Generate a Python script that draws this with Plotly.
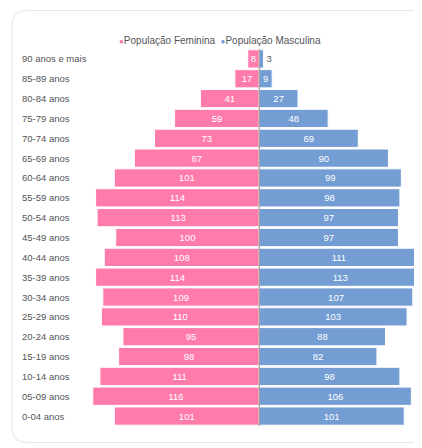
import plotly.graph_objects as go

categories = ["90 anos e mais", "85-89 anos", "80-84 anos", "75-79 anos", "70-74 anos",
              "65-69 anos", "60-64 anos", "55-59 anos", "50-54 anos", "45-49 anos",
              "40-44 anos", "35-39 anos", "30-34 anos", "25-29 anos", "20-24 anos",
              "15-19 anos", "10-14 anos", "05-09 anos", "0-04 anos"]
female = [8, 17, 41, 59, 73, 87, 101, 114, 113, 100, 108, 114, 109, 110, 95, 98, 111, 116, 101]
male = [3, 9, 27, 48, 69, 90, 99, 98, 97, 97, 111, 113, 107, 103, 88, 82, 98, 106, 101]

PINK = "#FF7BAC"
BLUE = "#739DD3"
FONT = "Liberation Sans, Arial, sans-serif"

OFF = 8  # page body margin
W, H = 414, 440
ML, MR, MT, MB = 80 - OFF, 0, 48.5 - OFF, 21.5
PW, PH = W - ML - MR, H - MT - MB


def px(xr):
    return (xr - OFF - ML) / PW


def py(yr):
    return (H - MB - (yr - OFF)) / PH


fig = go.Figure()
fig.add_trace(go.Bar(
    y=categories, x=[-v for v in female], orientation="h",
    text=[str(v) for v in female], textposition="auto", insidetextanchor="middle",
    insidetextfont=dict(color="white", size=9.5, family=FONT),
    outsidetextfont=dict(color="#555555", size=9.5, family=FONT),
    marker=dict(color=PINK, line=dict(color="white", width=1)),
    name="População Feminina", showlegend=False, cliponaxis=False,
))
fig.add_trace(go.Bar(
    y=categories, x=male, orientation="h",
    text=[str(v) for v in male], textposition="auto", insidetextanchor="middle",
    insidetextfont=dict(color="white", size=9.5, family=FONT),
    outsidetextfont=dict(color="#555555", size=9.5, family=FONT),
    marker=dict(color=BLUE, line=dict(color="white", width=1)),
    name="População Masculina", showlegend=False, cliponaxis=False,
))

annotations = []
for c in categories:
    annotations.append(dict(
        x=px(20), xref="paper", y=c, yref="y", text=c, showarrow=False,
        xanchor="left", yanchor="middle", font=dict(size=9.5, color="#555555", family=FONT),
    ))
annotations.append(dict(
    x=px(220), xref="paper", y=py(40), yref="paper", showarrow=False,
    xanchor="center", yanchor="middle",
    text=(f"<span style='color:{PINK};font-size:8px'>●</span>População Feminina  "
          f"<span style='color:{BLUE};font-size:8px'>●</span>População Masculina"),
    font=dict(size=10, color="#555555", family=FONT),
))

# card outline
x0, x1 = px(12), px(440)
y0, y1 = py(443), py(10)
rx, ry = 15 / PW, 15 / PH
path = (f"M {x0+rx},{y1} L {x1-rx},{y1} Q {x1},{y1} {x1},{y1-ry} L {x1},{y0+ry} "
        f"Q {x1},{y0} {x1-rx},{y0} L {x0+rx},{y0} Q {x0},{y0} {x0},{y0+ry} "
        f"L {x0},{y1-ry} Q {x0},{y1} {x0+rx},{y1} Z")

fig.update_layout(
    width=W, height=H,
    margin=dict(l=ML, r=MR, t=MT, b=MB, pad=0),
    barmode="relative", bargap=0.08,
    paper_bgcolor="white", plot_bgcolor="rgba(0,0,0,0)",
    xaxis=dict(range=[-124.9, 113.4], visible=False, fixedrange=True),
    yaxis=dict(categoryorder="array", categoryarray=categories[::-1],
               range=[-0.5, len(categories) - 0.5], showticklabels=False,
               showgrid=False, zeroline=False, fixedrange=True),
    annotations=annotations,
    shapes=[dict(type="path", path=path, xref="paper", yref="paper",
                 line=dict(color="#e6e6e6", width=1), layer="below"),
            dict(type="line", xref="x", yref="paper", x0=0, x1=0, y0=0, y1=1,
                 line=dict(color="#8a8a8a", width=1), layer="above")],
    showlegend=False,
    font=dict(family=FONT),
)

fig.write_html("out.html")
